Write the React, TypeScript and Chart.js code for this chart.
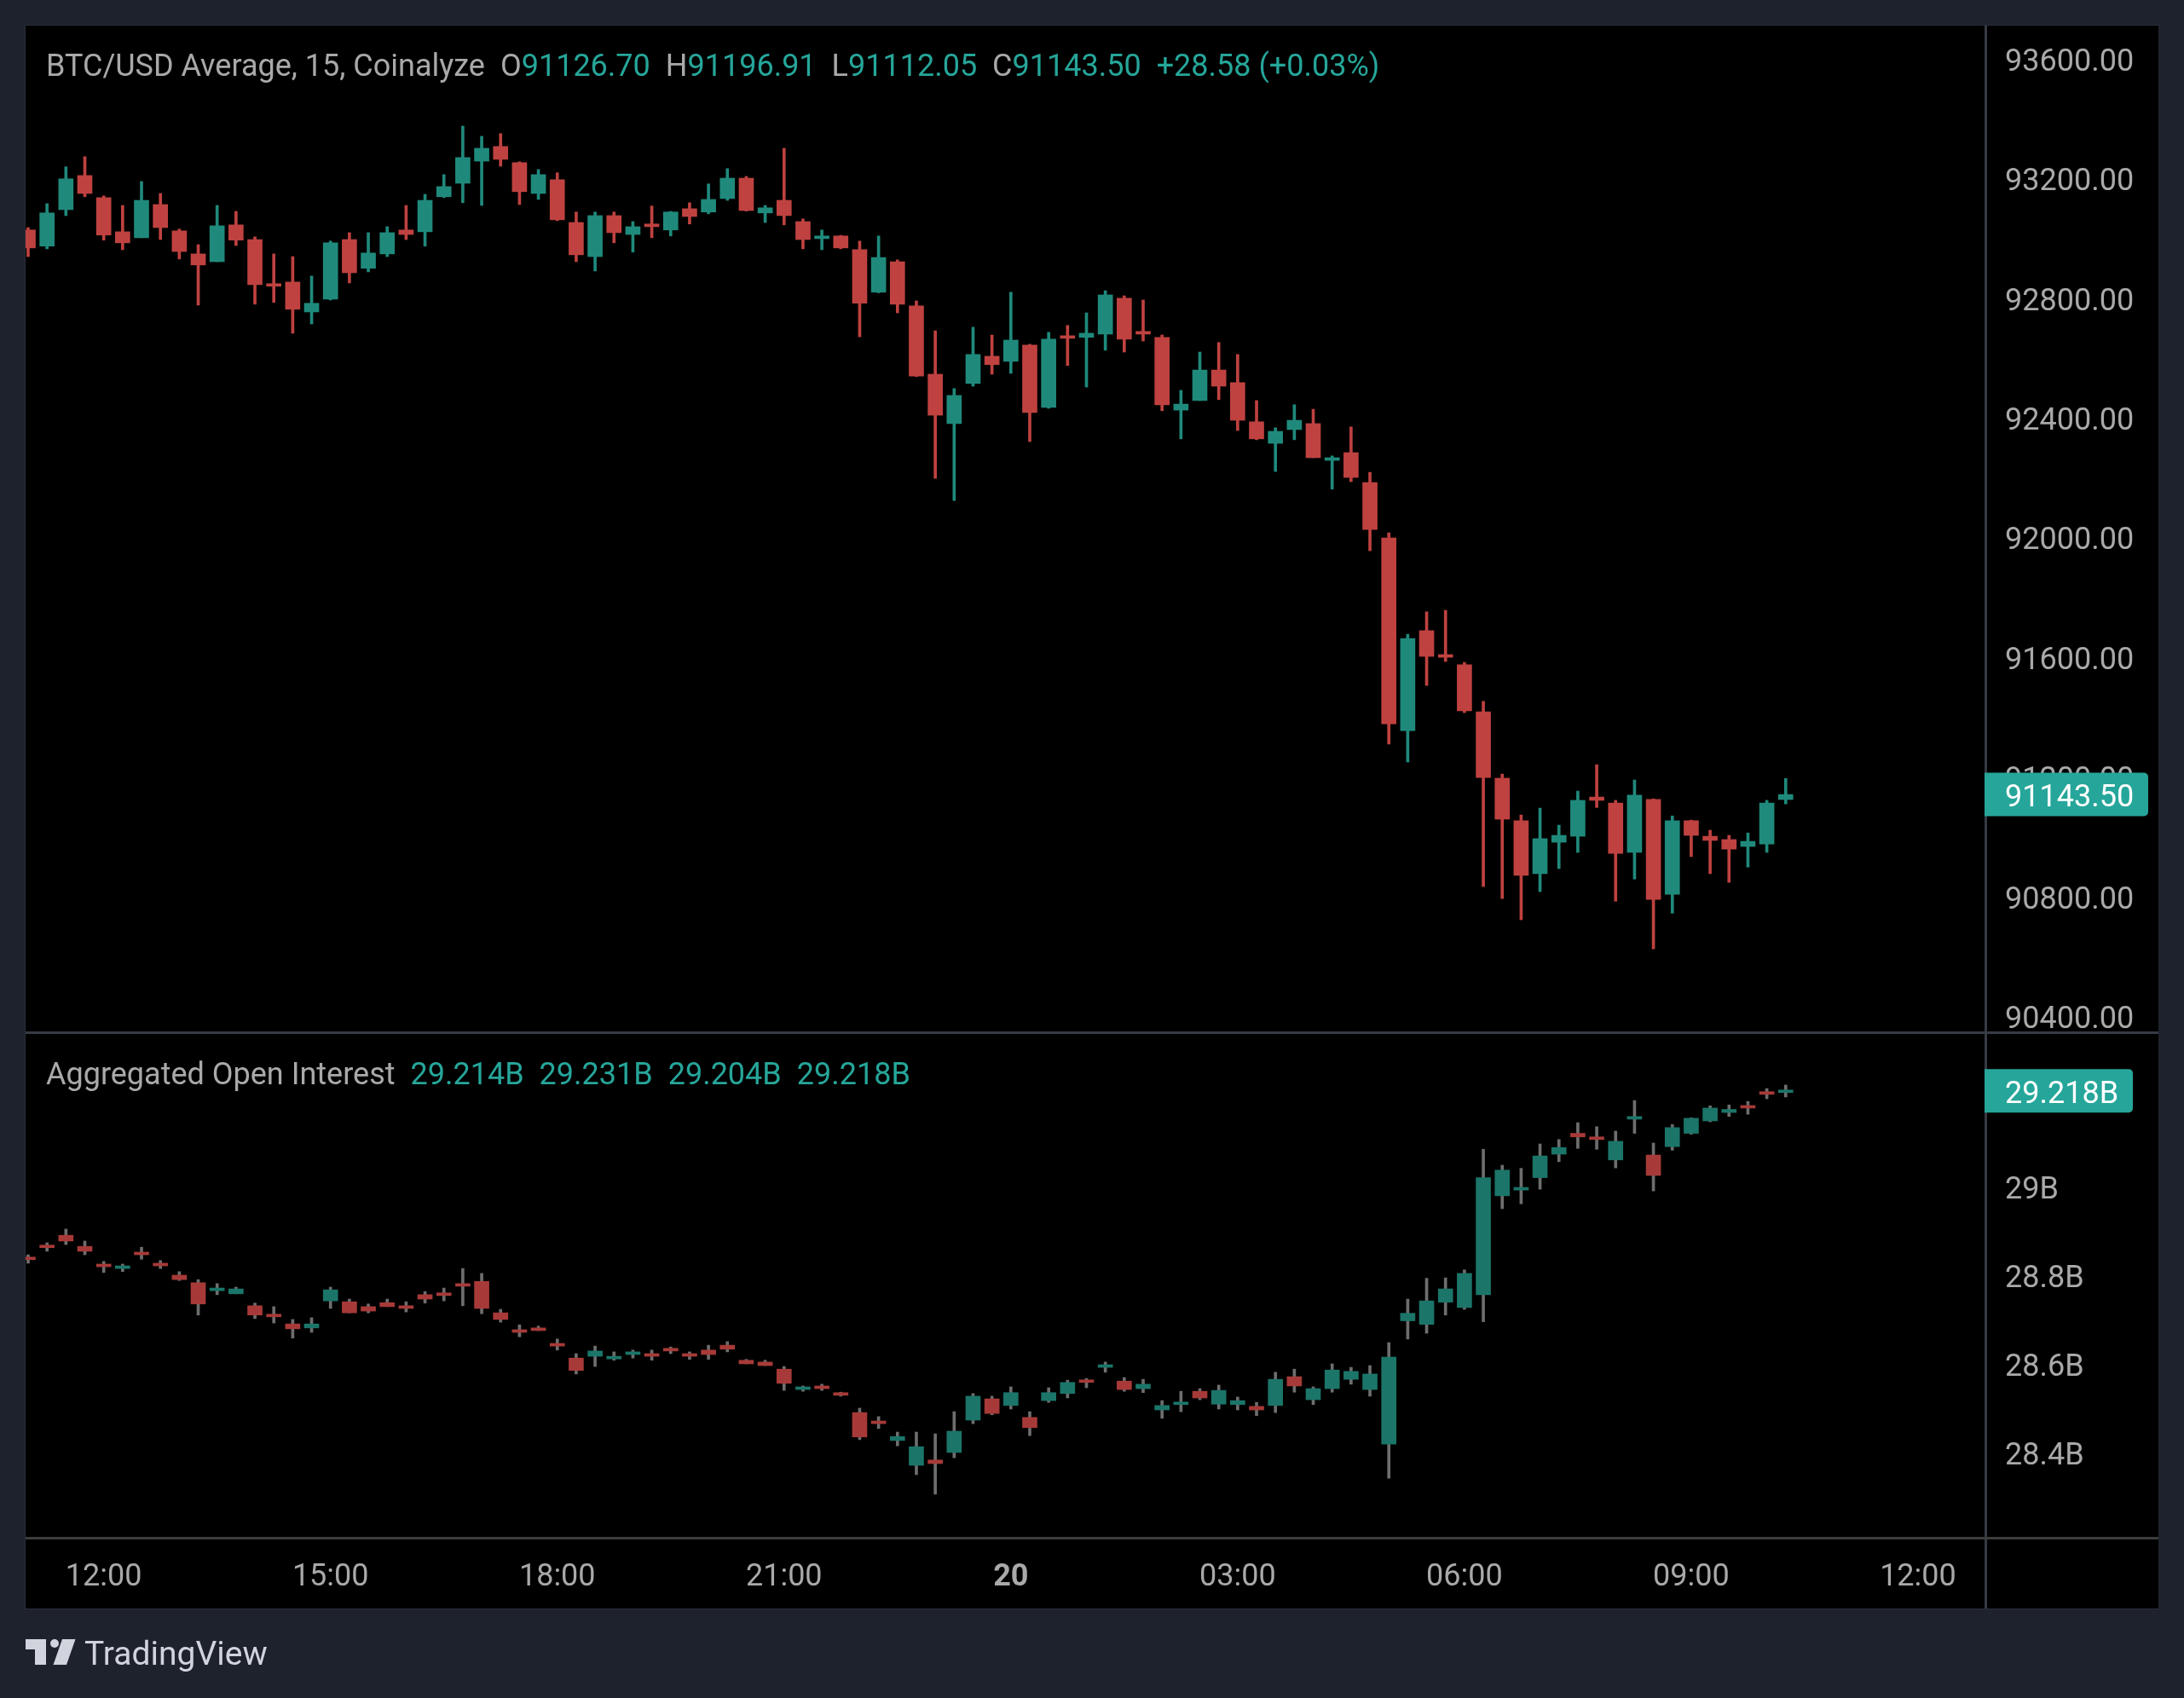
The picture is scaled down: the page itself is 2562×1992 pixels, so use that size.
import React, { useEffect, useRef } from "react";
import { Chart, registerables } from "chart.js";

Chart.register(...registerables);

// 15 minute candles, index 0 is 11:00
const priceOpen = [93030,92976,93098,93212,93138,93024,93004,93115,93027,92950,92924,93047,92998,92850,92856,92756,92799,92998,92902,92950,93030,93024,93141,93186,93260,93309,93255,93152,93198,93055,92941,93078,93015,93050,93030,93101,93090,93135,93203,93087,93129,93058,93001,93010,92964,92822,92924,92776,92548,92383,92517,92608,92591,92645,92437,92676,92671,92682,92802,92691,92671,92428,92460,92562,92520,92389,92317,92363,92383,92260,92286,92186,92001,91357,91691,91611,91577,91420,91198,91056,90879,90984,91004,91135,91115,90950,91127,90810,91056,91004,90993,90970,90978,91126.7];
const priceHigh = [93038,93118,93241,93275,93144,93112,93192,93152,93033,92981,93112,93092,93007,92950,92941,92876,92993,93021,93021,93041,93112,93149,93215,93377,93343,93352,93258,93232,93221,93090,93090,93090,93058,93110,93092,93121,93184,93235,93209,93112,93303,93067,93030,93012,92993,93010,92930,92793,92693,92500,92705,92679,92822,92648,92688,92711,92753,92827,92810,92796,92679,92494,92622,92654,92614,92460,92369,92446,92431,92275,92372,92220,92018,91679,91754,91759,91585,91455,91212,91075,91098,91041,91155,91243,91124,91192,91129,91072,91058,91024,91007,91015,91124,91196.91];
const priceLow = [92941,92967,93078,93141,92996,92964,93004,92998,92933,92779,92924,92978,92782,92788,92685,92716,92796,92853,92890,92941,92998,92976,93138,93121,93112,93243,93115,93132,93061,92924,92893,92987,92956,93004,93010,93050,93084,93129,93093,93055,93047,92967,92964,92967,92673,92820,92753,92540,92200,92126,92508,92548,92551,92323,92434,92577,92505,92628,92622,92659,92426,92332,92460,92463,92360,92329,92223,92329,92269,92164,92189,91958,91312,91252,91508,91588,91417,90836,90796,90725,90819,90896,90950,91100,90787,90861,90628,90747,90936,90879,90850,90901,90950,91112.05];
const priceClose = [92970,93087,93201,93152,93013,92987,93129,93038,92958,92913,93044,92996,92847,92842,92765,92785,92987,92887,92953,93021,93015,93129,93175,93272,93303,93266,93158,93215,93064,92947,93078,93021,93041,93041,93090,93075,93132,93203,93095,93104,93078,92998,93010,92970,92785,92938,92782,92542,92411,92477,92614,92580,92662,92420,92665,92668,92685,92813,92665,92682,92446,92448,92562,92508,92394,92332,92357,92394,92269,92269,92203,92029,91380,91665,91605,91602,91423,91200,91061,90873,90996,91007,91124,91124,90947,91141,90793,91056,91007,90990,90961,90987,91115,91143.5];

const oiOpen = [28.842,28.869,28.892,28.867,28.827,28.817,28.854,28.829,28.802,28.785,28.767,28.76,28.733,28.714,28.692,28.683,28.744,28.742,28.731,28.74,28.733,28.758,28.762,28.783,28.788,28.717,28.679,28.683,28.648,28.615,28.619,28.613,28.623,28.625,28.637,28.625,28.633,28.644,28.61,28.606,28.59,28.544,28.552,28.537,28.492,28.473,28.429,28.373,28.385,28.402,28.475,28.523,28.508,28.481,28.519,28.535,28.565,28.594,28.563,28.546,28.498,28.51,28.54,28.511,28.51,28.506,28.508,28.573,28.521,28.546,28.567,28.544,28.421,28.699,28.691,28.741,28.729,28.758,28.981,28.994,29.022,29.075,29.122,29.114,29.062,29.154,29.073,29.092,29.122,29.15,29.169,29.184,29.216,29.214];
const oiHigh = [28.848,28.875,28.906,28.879,28.833,28.827,28.865,28.835,28.81,28.792,28.783,28.775,28.739,28.731,28.702,28.706,28.775,28.748,28.737,28.748,28.742,28.765,28.773,28.817,28.806,28.725,28.69,28.687,28.658,28.625,28.642,28.629,28.633,28.633,28.64,28.629,28.644,28.652,28.612,28.61,28.596,28.552,28.556,28.538,28.502,28.483,28.448,28.448,28.444,28.494,28.535,28.529,28.55,28.494,28.548,28.565,28.569,28.606,28.571,28.567,28.519,28.54,28.546,28.554,28.527,28.515,28.583,28.59,28.55,28.602,28.594,28.598,28.65,28.748,28.795,28.796,28.814,29.086,29.05,29.043,29.098,29.108,29.146,29.137,29.127,29.196,29.1,29.142,29.157,29.184,29.186,29.194,29.223,29.231];
const oiLow = [28.829,28.856,28.871,28.848,28.808,28.81,28.838,28.817,28.79,28.712,28.758,28.76,28.704,28.694,28.66,28.673,28.727,28.717,28.717,28.731,28.719,28.739,28.744,28.733,28.715,28.696,28.663,28.677,28.633,28.579,28.596,28.61,28.615,28.61,28.625,28.612,28.612,28.629,28.602,28.598,28.542,28.54,28.542,28.529,28.431,28.456,28.417,28.352,28.308,28.39,28.467,28.487,28.5,28.44,28.515,28.525,28.548,28.583,28.54,28.537,28.479,28.494,28.521,28.5,28.498,28.485,28.492,28.538,28.51,28.538,28.556,28.529,28.344,28.658,28.671,28.712,28.725,28.697,28.952,28.963,28.996,29.058,29.088,29.086,29.044,29.122,28.992,29.084,29.12,29.148,29.16,29.165,29.2,29.204];
const oiClose = [28.837,28.864,28.879,28.856,28.821,28.823,28.848,28.823,28.792,28.737,28.773,28.771,28.712,28.708,28.681,28.692,28.769,28.717,28.721,28.731,28.727,28.748,28.756,28.777,28.727,28.702,28.673,28.677,28.642,28.587,28.631,28.619,28.629,28.619,28.631,28.619,28.623,28.635,28.602,28.598,28.558,28.55,28.546,28.531,28.437,28.467,28.438,28.415,28.377,28.45,28.529,28.49,28.537,28.458,28.537,28.56,28.56,28.6,28.544,28.556,28.508,28.515,28.525,28.542,28.519,28.498,28.567,28.552,28.546,28.588,28.585,28.579,28.617,28.716,28.744,28.771,28.806,29.022,29.039,29,29.071,29.09,29.114,29.108,29.104,29.16,29.027,29.135,29.156,29.179,29.176,29.179,29.21,29.218];

const timeTicks = [4, 16, 28, 40, 52, 64, 76, 88, 100];
const timeLabels = ["12:00", "15:00", "18:00", "21:00", "20", "03:00", "06:00", "09:00", "12:00"];
const priceTicks = [90400, 90800, 91200, 91600, 92000, 92400, 92800, 93200, 93600];
const oiTicks = [28.4, 28.6, 28.8, 29];

const FONT = "Roboto";
const FONT_SIZE = 36;
const GREY = "#a9a9a9";
const TEAL = "#26a69a";

const candles = (open: number[], high: number[], low: number[], close: number[], axis: string,
    up: string, down: string, wick?: string) => {
    const colors = close.map((c, i) => (c >= open[i] ? up : down));
    return [
        {
            yAxisID: axis,
            data: low.map((l, i) => ({ x: i, y: [l, high[i]] })),
            backgroundColor: wick ? wick : colors,
            barThickness: 3,
            grouped: false,
            order: 2,
        },
        {
            yAxisID: axis,
            data: open.map((o, i) => ({ x: i, y: [o, close[i]] })),
            backgroundColor: colors,
            barThickness: 17,
            minBarLength: 3,
            grouped: false,
            order: 1,
        },
    ];
};

const drawRuns = (ctx: CanvasRenderingContext2D, x: number, y: number, runs: [string, string][], gap: number) => {
    ctx.font = `${FONT_SIZE}px ${FONT}`;
    ctx.textAlign = "left";
    ctx.textBaseline = "alphabetic";
    let cx = x;
    runs.forEach(([text, color]) => {
        if (text === "") {
            cx += gap;
            return;
        }
        ctx.fillStyle = color;
        ctx.fillText(text, cx, y);
        cx += ctx.measureText(text).width;
    });
};

const badge = (ctx: CanvasRenderingContext2D, right: number, y: number, text: string) => {
    ctx.fillStyle = TEAL;
    ctx.beginPath();
    ctx.roundRect(2328, y - 25.5, right - 2328, 51, [0, 5, 5, 0]);
    ctx.fill();
    ctx.font = `${FONT_SIZE}px ${FONT}`;
    ctx.textAlign = "left";
    ctx.textBaseline = "middle";
    ctx.fillStyle = "#ffffff";
    ctx.fillText(text, 2352, y + 5);
};

// panel background, pane separators, legends and the last value tags
const framePlugin = {
    id: "frame",
    beforeDraw(chart: Chart) {
        const { ctx } = chart;
        ctx.save();
        ctx.fillStyle = "#1e222d";
        ctx.fillRect(0, 0, 2562, 1992);
        ctx.fillStyle = "#000000";
        ctx.fillRect(30, 30, 2502, 1857);
        ctx.restore();
    },
    afterDraw(chart: Chart) {
        const { ctx } = chart;
        const price = chart.scales.price;
        const oi = chart.scales.oi;
        ctx.save();
        ctx.fillStyle = "#2a2e39";
        ctx.fillRect(29, 29, 2504, 1);
        ctx.fillRect(29, 29, 1, 1859);
        ctx.fillRect(29, 1887, 2504, 1);
        ctx.fillStyle = "#363a45";
        ctx.fillRect(2328, 30, 3, 1857);
        ctx.fillRect(30, 1210, 2502, 3);
        ctx.fillStyle = "#3c3c3c";
        ctx.fillRect(30, 1803, 2502, 3);

        drawRuns(ctx, 54, 89, [
            ["BTC/USD Average, 15, Coinalyze", GREY], ["", ""],
            ["O", GREY], ["91126.70", TEAL], ["", ""],
            ["H", GREY], ["91196.91", TEAL], ["", ""],
            ["L", GREY], ["91112.05", TEAL], ["", ""],
            ["C", GREY], ["91143.50", TEAL], ["", ""],
            ["+28.58 (+0.03%)", TEAL],
        ], 18);
        drawRuns(ctx, 54, 1272, [
            ["Aggregated Open Interest", GREY], ["", ""],
            ["29.214B", TEAL], ["", ""],
            ["29.231B", TEAL], ["", ""],
            ["29.204B", TEAL], ["", ""],
            ["29.218B", TEAL],
        ], 18);

        badge(ctx, 2520, price.getPixelForValue(priceClose[priceClose.length - 1]), "91143.50");
        badge(ctx, 2502, oi.getPixelForValue(oiClose[oiClose.length - 1]), "29.218B");

        // TradingView mark
        ctx.fillStyle = "#d1d4dc";
        ctx.fillRect(30, 1923, 24, 12);
        ctx.fillRect(41, 1923, 13, 30);
        ctx.beginPath();
        ctx.arc(64, 1928, 5, 0, Math.PI * 2);
        ctx.fill();
        ctx.beginPath();
        ctx.moveTo(73, 1923);
        ctx.lineTo(88.5, 1923);
        ctx.lineTo(78, 1953);
        ctx.lineTo(62.5, 1953);
        ctx.fill();
        ctx.font = `39px ${FONT}`;
        ctx.textAlign = "left";
        ctx.textBaseline = "alphabetic";
        ctx.fillText("TradingView", 99, 1953);
        ctx.restore();
    },
};

const yAxis = (min: number, max: number, weight: number, values: number[], label: (v: number) => string) => ({
    type: "linear",
    position: "right",
    stack: "panes",
    stackWeight: weight,
    min,
    max,
    border: { display: false },
    grid: { display: false, drawTicks: false },
    afterBuildTicks: (scale: any) => {
        scale.ticks = values.map((value) => ({ value }));
    },
    afterFit: (scale: any) => {
        scale.width = 203;
        // the tick labels may overhang, no room is kept for them
        scale.paddingTop = 0;
        scale.paddingBottom = 0;
    },
    ticks: {
        autoSkip: false,
        padding: 23,
        labelOffset: 4,
        color: GREY,
        font: { family: FONT, size: FONT_SIZE },
        callback: (v: any) => label(Number(v)),
    },
});

const App: React.FC = () => {
    const chartRef = useRef<HTMLCanvasElement>(null);

    useEffect(() => {
        if (!chartRef.current) return;
        const chart = new Chart(chartRef.current, {
            type: "bar",
            data: {
                datasets: [
                    ...candles(priceOpen, priceHigh, priceLow, priceClose, "price", "#1f8a7c", "#bf4240"),
                    ...candles(oiOpen, oiHigh, oiLow, oiClose, "oi", "#1b7569", "#a73a38", "#6e6e6e"),
                ] as any,
            },
            options: {
                animation: false,
                responsive: false,
                devicePixelRatio: 1,
                layout: { padding: { left: 30, top: 30, right: 30, bottom: 105 } },
                plugins: { legend: { display: false }, tooltip: { enabled: false } },
                scales: {
                    x: {
                        type: "linear",
                        offset: false,
                        min: -0.135,
                        max: 103.565,
                        border: { display: false },
                        grid: { display: false, drawTicks: false },
                        afterBuildTicks: (scale: any) => {
                            scale.ticks = timeTicks.map((value) => ({ value }));
                        },
                        afterFit: (scale: any) => {
                            scale.height = 83;
                            scale.paddingLeft = 0;
                            scale.paddingRight = 0;
                        },
                        ticks: {
                            autoSkip: false,
                            maxRotation: 0,
                            padding: 25,
                            color: GREY,
                            font: (ctx: any) => ({
                                family: FONT,
                                size: FONT_SIZE,
                                weight: ctx.tick && ctx.tick.value === 52 ? "bold" : "normal",
                            }),
                            callback: (v: any) => timeLabels[timeTicks.indexOf(Number(v))],
                        },
                    },
                    price: yAxis(90349, 93713, 1181, priceTicks, (v) => v.toFixed(2)),
                    oi: yAxis(28.2096, 29.35, 593, oiTicks, (v) => `${v}B`),
                } as any,
            },
            plugins: [framePlugin],
        });
        return () => {
            chart.destroy();
        };
    }, []);

    return (
        <div style={{ position: "absolute", left: 0, top: 0, width: 2562, height: 1992, background: "#1e222d" }}>
            <canvas ref={chartRef} width={2562} height={1992} style={{ display: "block" }} />
        </div>
    );
};

export default App;
